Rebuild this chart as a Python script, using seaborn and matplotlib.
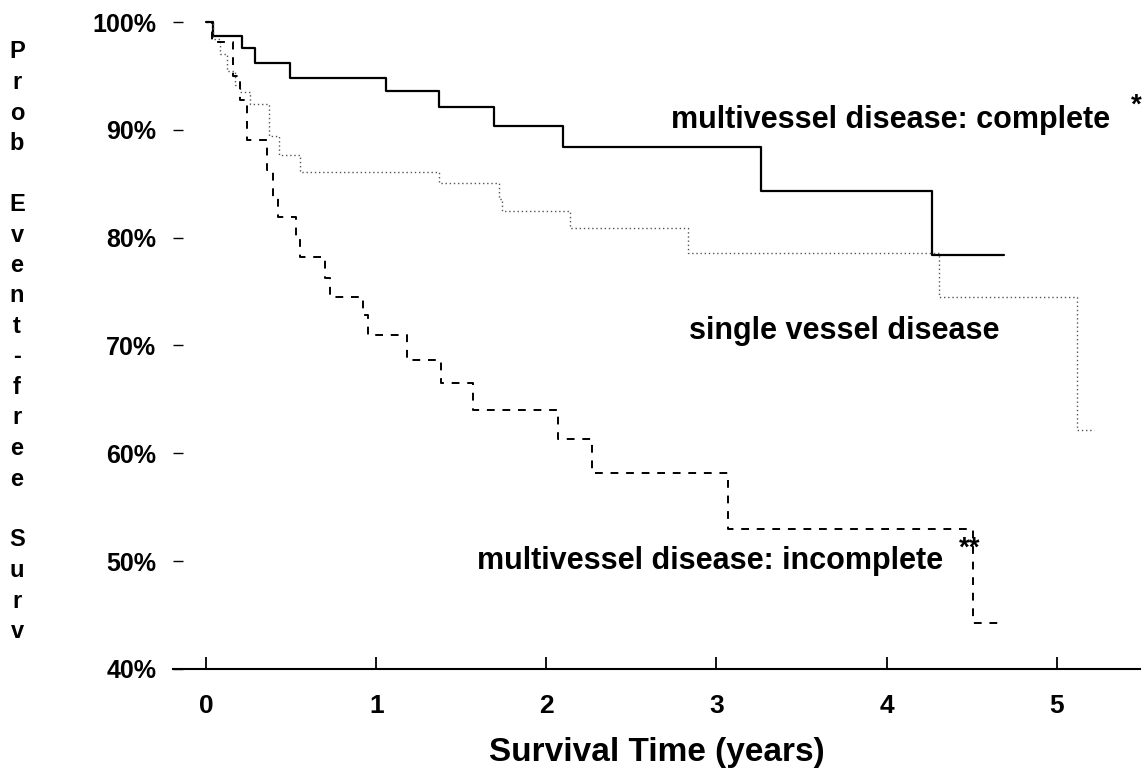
import pandas as pd
import matplotlib
matplotlib.use('Agg')
import matplotlib.pyplot as plt
import seaborn as sns

# Kaplan-Meier style step data (time in years, event-free survival in %)
complete_t = [0, 0.04, 0.21, 0.29, 0.49, 1.06, 1.37, 1.69, 2.10, 3.26, 4.27, 4.69]
complete_s = [100, 98.7, 97.6, 96.2, 94.8, 93.6, 92.1, 90.35, 88.4, 84.3, 78.4, 78.4]

single_t = [0, 0.04, 0.08, 0.12, 0.17, 0.20, 0.26, 0.37, 0.43, 0.55, 1.37, 1.72,
            1.74, 2.14, 2.83, 4.31, 5.12, 5.22]
single_s = [100, 98.4, 97.0, 95.5, 94.2, 93.5, 92.4, 89.4, 87.7, 86.1, 85.1, 83.6,
            82.5, 80.9, 78.6, 74.5, 62.2, 62.2]

incomplete_t = [0, 0.035, 0.155, 0.20, 0.24, 0.36, 0.39, 0.42, 0.53, 0.55, 0.70, 0.73,
                0.92, 0.95, 1.18, 1.38, 1.57, 2.07, 2.27, 3.07, 4.51, 4.69]
incomplete_s = [100, 98.1, 95.0, 92.8, 89.1, 86.3, 83.7, 81.9, 80.0, 78.2, 76.3, 74.5,
                72.8, 71.0, 68.7, 66.5, 64.0, 61.3, 58.2, 53.0, 44.3, 44.3]

x_ticks = [0, 1, 2, 3, 4, 5]
y_ticks = [40, 50, 60, 70, 80, 90, 100]
y_ticklabels = ['40%', '50%', '60%', '70%', '80%', '90%', '100%']

sns.set_style('white')
plt.rcParams['font.family'] = ['Liberation Sans', 'DejaVu Sans']
plt.rcParams['font.weight'] = 'bold'
plt.rcParams['text.color'] = 'black'
plt.rcParams['axes.labelcolor'] = 'black'
narrow = ['Liberation Sans Narrow', 'Liberation Sans']

df_c = pd.DataFrame({'t': complete_t, 's': complete_s})
df_s = pd.DataFrame({'t': single_t, 's': single_s})
df_i = pd.DataFrame({'t': incomplete_t, 's': incomplete_s})

fig = plt.figure(figsize=(11.48, 7.69), dpi=100)
ax = fig.add_axes([173 / 1148, 1 - 669 / 769, 967 / 1148, 647 / 769])

sns.lineplot(data=df_c, x='t', y='s', ax=ax, color='black', lw=1.6,
             drawstyle='steps-post', sort=False, errorbar=None, clip_on=False)
sns.lineplot(data=df_s, x='t', y='s', ax=ax, color='#555555', lw=1.0,
             linestyle=(0, (1, 2)), drawstyle='steps-post', sort=False,
             errorbar=None, clip_on=False)
sns.lineplot(data=df_i, x='t', y='s', ax=ax, color='black', lw=1.4,
             linestyle=(0, (4, 4)), drawstyle='steps-post', sort=False,
             errorbar=None, clip_on=False)

ax.set_xlim(-0.195, 5.49)
ax.set_ylim(40, 100)
for side in ['top', 'right', 'left']:
    ax.spines[side].set_visible(False)
ax.spines['bottom'].set_linewidth(1.5)
ax.spines['bottom'].set_color('black')

ax.set_xticks(x_ticks)
ax.set_xticklabels([str(v) for v in x_ticks], family=narrow, fontsize=19, fontweight='bold')
ax.set_yticks(y_ticks)
ax.set_yticklabels(y_ticklabels, fontsize=18, fontweight='bold')
ax.tick_params(axis='x', bottom=True, direction='in', length=9, width=1.3, pad=18,
               color='black', labelcolor='black')
ax.tick_params(axis='y', left=True, direction='in', length=7, width=1.0, pad=12,
               color='black', labelcolor='black')
ax.set_xlabel('Survival Time (years)', family=narrow, fontsize=24, fontweight='bold', labelpad=14)
ax.set_ylabel('')

# curve labels
ax.text(2.73, 90.2, 'multivessel disease: complete', fontsize=22, fontweight='bold')
ax.text(5.47, 91.6, '*', fontsize=20, fontweight='bold', ha='center')
ax.text(2.84, 70.6, 'single vessel disease', fontsize=22, fontweight='bold')
ax.text(4.33, 49.3, 'multivessel disease: incomplete', fontsize=22, fontweight='bold', ha='right')
ax.text(4.49, 50.5, '**', fontsize=20, fontweight='bold', ha='center')

# stacked y-axis title
ylab = 'Prob Event-free Surv'
for i, ch in enumerate(ylab):
    if ch != ' ':
        fig.text(17 / 1148, 1 - (52 + i * 30.5) / 769, ch, fontsize=17,
                 fontweight='bold', ha='center', va='center')

fig.savefig('out.png', dpi=100)
